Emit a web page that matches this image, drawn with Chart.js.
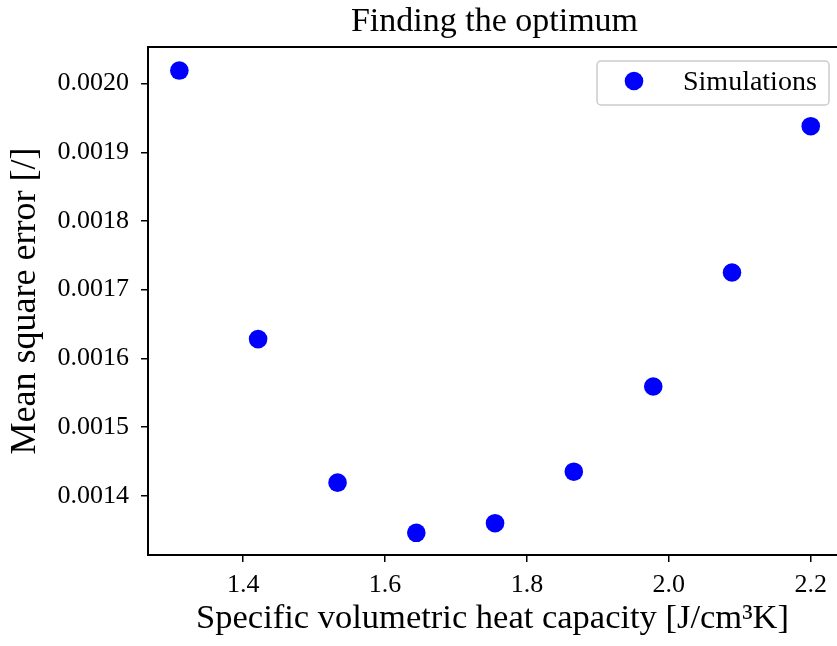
<!DOCTYPE html>
<html>
<head>
<meta charset="utf-8">
<script src="https://cdn.jsdelivr.net/npm/chart.js@4"></script>
<style>
  html, body { margin: 0; padding: 0; background: #fff; }
  #wrap { width: 837px; height: 646px; }
</style>
</head>
<body>
<div id="wrap"><canvas id="chart" width="837" height="646"></canvas></div>
<script>
// --- Data ---
const heatCapacity = [1.31, 1.421, 1.533, 1.644, 1.755, 1.866, 1.978, 2.089, 2.2];
const mse = [0.002019, 0.001628, 0.001419, 0.001346, 0.001360, 0.001435, 0.001559, 0.001725, 0.001938];
const seriesLabel = 'Simulations';
const chartTitle = 'Finding the optimum';
const xTitle = 'Specific volumetric heat capacity [J/cm\u00B3K]';
const yTitle = 'Mean square error [/]';

const FONT = '"Liberation Serif", "Times New Roman", serif';
const BLUE = '#0000ff';

// title + top spine + legend box, drawn by hand to sit like matplotlib's
const decorations = {
    id: 'decorations',
    afterDraw(chart) {
        const ctx = chart.ctx;
        const a = chart.chartArea;
        ctx.save();
        // top spine
        ctx.strokeStyle = '#000';
        ctx.lineWidth = 2;
        ctx.beginPath();
        ctx.moveTo(a.left - 1, a.top);
        ctx.lineTo(a.right, a.top);
        ctx.stroke();

        // title
        ctx.fillStyle = '#000';
        ctx.font = '34px ' + FONT;
        ctx.textAlign = 'center';
        ctx.textBaseline = 'alphabetic';
        ctx.fillText(chartTitle, (a.left + a.right) / 2 + 2, 31);

        // legend
        const bx = 597, by = 61, bw = 232, bh = 44, r = 4;
        ctx.beginPath();
        ctx.roundRect(bx, by, bw, bh, r);
        ctx.fillStyle = 'rgba(255,255,255,0.8)';
        ctx.fill();
        ctx.strokeStyle = '#cccccc';
        ctx.lineWidth = 1.5;
        ctx.stroke();
        ctx.beginPath();
        ctx.arc(634, 81, 9.3, 0, Math.PI * 2);
        ctx.fillStyle = BLUE;
        ctx.fill();
        ctx.fillStyle = '#000';
        ctx.font = '28px ' + FONT;
        ctx.textAlign = 'left';
        ctx.fillText(seriesLabel, 683, 90);
        ctx.restore();
    }
};

const ctx = document.getElementById('chart').getContext('2d');
new Chart(ctx, {
    type: 'scatter',
    data: {
        datasets: [{
            label: seriesLabel,
            data: heatCapacity.map((x, i) => ({ x: x, y: mse[i] })),
            backgroundColor: BLUE,
            borderWidth: 0,
            pointRadius: 9.3,
            pointHoverRadius: 9.3
        }]
    },
    options: {
        responsive: false,
        animation: false,
        layout: { autoPadding: false, padding: { top: 47, right: 0, left: 0, bottom: 0 } },
        plugins: {
            legend: { display: false },
            tooltip: { enabled: false },
            title: { display: false }
        },
        scales: {
            x: {
                type: 'linear',
                min: 1.2658,
                max: 2.237,
                grid: { drawOnChartArea: false, drawTicks: true, tickLength: 7, color: '#000', lineWidth: 1.5 },
                border: { color: '#000', width: 2 },
                ticks: {
                    stepSize: 0.2,
                    includeBounds: false,
                    color: '#000',
                    font: { family: FONT, size: 26 },
                    padding: 8,
                    maxRotation: 0,
                    callback: v => v.toFixed(1)
                },
                title: {
                    display: true,
                    text: xTitle,
                    color: '#000',
                    font: { family: FONT, size: 34.5 },
                    padding: { top: 0, bottom: 6 }
                },
                afterFit: s => {
                    s.height = 91;
                    s.paddingLeft = 0;
                    s.paddingRight = 0;
                }
            },
            y: {
                type: 'linear',
                min: 0.0013137,
                max: 0.0020533,
                grid: { drawOnChartArea: false, drawTicks: true, tickLength: 7, color: '#000', lineWidth: 1.5 },
                border: { color: '#000', width: 2 },
                ticks: {
                    stepSize: 0.0001,
                    includeBounds: false,
                    color: '#000',
                    font: { family: FONT, size: 26 },
                    padding: 12,
                    callback: v => v.toFixed(4)
                },
                title: {
                    display: true,
                    text: yTitle,
                    color: '#000',
                    font: { family: FONT, size: 36 },
                    padding: { top: 4, bottom: 0 }
                },
                afterFit: s => {
                    s.width = 148;
                    s.paddingTop = 0;
                    s.paddingBottom = 0;
                }
            }
        }
    },
    plugins: [decorations]
});
</script>
</body>
</html>
